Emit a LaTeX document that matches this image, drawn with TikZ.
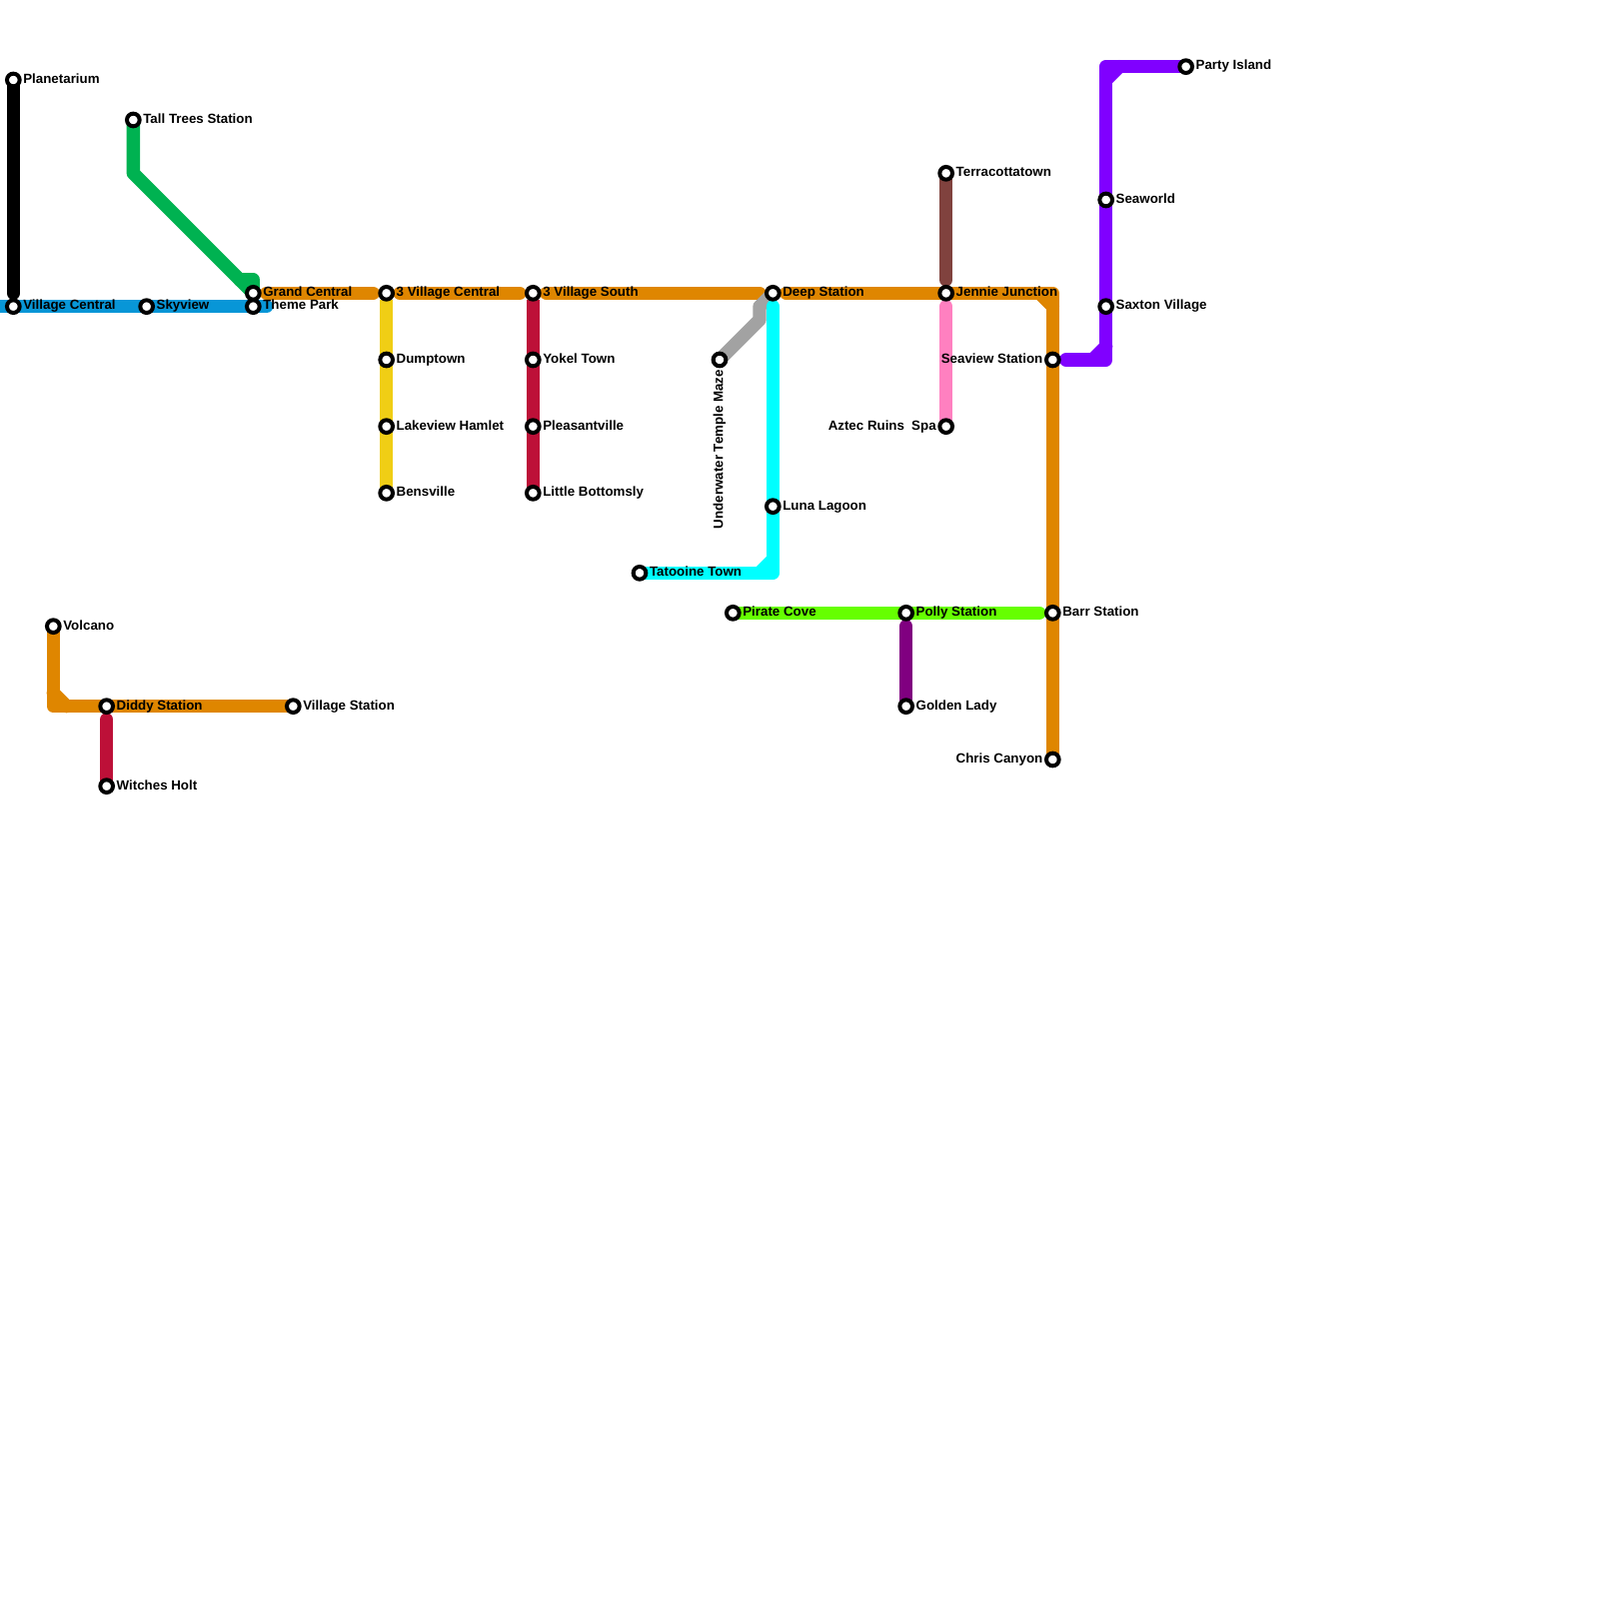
\documentclass[tikz,border=0pt]{standalone}
\usepackage{fontspec}
\setmainfont{Liberation Sans}
\usetikzlibrary{positioning,backgrounds}
\definecolor{lineblack}{HTML}{000000}
\definecolor{lineblue}{HTML}{0896D7}
\definecolor{linegreen}{HTML}{00B251}
\definecolor{lineorange}{HTML}{DF8600}
\definecolor{lineyellow}{HTML}{F0CE15}
\definecolor{linered}{HTML}{BD1038}
\definecolor{linesilver}{HTML}{A2A2A2}
\definecolor{linecyan}{HTML}{00FFFF}
\definecolor{linelime}{HTML}{66FF00}
\definecolor{linepurple}{HTML}{800080}
\definecolor{linebrown}{HTML}{80423E}
\definecolor{linepink}{HTML}{FF80C0}
\definecolor{lineviolet}{HTML}{8000FF}
\tikzset{
  track/.style={line width=2mm, line cap=round, line join=round},
  clear/.style={shorten <=2mm, shorten >=2mm},
  clearstart/.style={shorten <=2mm},
  clearend/.style={shorten >=2mm},
  flatstart/.style={line cap=butt, shorten <=1mm},
  stn/.style={circle, draw=black, fill=white, line width=0.6mm, minimum size=1.9mm, inner sep=0pt, outer sep=0pt},
  lab/.style={text=black, font=\fontsize{5.69}{6}\selectfont\bfseries, inner sep=0pt, outer sep=0pt, text height=1.3mm, text depth=0.3mm},
}

\begin{document}
\begin{tikzpicture}[x=2mm,y=-2mm]
  \useasboundingbox (0,0) rectangle (120,120);
  % west
  \node[stn] (planetarium) at (1,6) {};
  \node[lab,right=0.55mm of planetarium] (planetariumlab) {Planetarium};
  \node[stn] (vcentral) at (1,23) {};
  \node[lab,right=0.55mm of vcentral] (vcentrallab) {Village Central};
  \node[stn] (skyview) at (11,23) {};
  \node[lab,right=0.55mm of skyview] (skyviewlab) {Skyview};
  \node[stn] (tall) at (10,9) {};
  \node[lab,right=0.55mm of tall] (talllab) {Tall Trees Station};
  \node[stn] (grand) at (19,22) {};
  \node[lab,right=0.55mm of grand] (grandlab) {Grand Central};
  \node[stn] (theme) at (19,23) {};
  \node[lab,right=0.55mm of theme] (themelab) {Theme Park};
  \node[stn] (volcano) at (4,47) {};
  \node[lab,right=0.55mm of volcano] (volcanolab) {Volcano};
  \node[stn] (diddy) at (8,53) {};
  \node[lab,right=0.55mm of diddy] (diddylab) {Diddy Station};
  \node[stn] (vstation) at (22,53) {};
  \node[lab,right=0.55mm of vstation] (vstationlab) {Village Station};
  \node[stn] (witches) at (8,59) {};
  \node[lab,right=0.55mm of witches] (witcheslab) {Witches Holt};
  % middle
  \node[stn] (vc3) at (29,22) {};
  \node[lab,right=0.55mm of vc3] (vc3lab) {3 Village Central};
  \node[stn] (dump) at (29,27) {};
  \node[lab,right=0.55mm of dump] (dumplab) {Dumptown};
  \node[stn] (lake) at (29,32) {};
  \node[lab,right=0.55mm of lake] (lakelab) {Lakeview Hamlet};
  \node[stn] (bens) at (29,37) {};
  \node[lab,right=0.55mm of bens] (benslab) {Bensville};
  \node[stn] (vs3) at (40,22) {};
  \node[lab,right=0.55mm of vs3] (vs3lab) {3 Village South};
  \node[stn] (yokel) at (40,27) {};
  \node[lab,right=0.55mm of yokel] (yokellab) {Yokel Town};
  \node[stn] (pleasant) at (40,32) {};
  \node[lab,right=0.55mm of pleasant] (pleasantlab) {Pleasantville};
  \node[stn] (bottomsly) at (40,37) {};
  \node[lab,right=0.55mm of bottomsly] (bottomslylab) {Little Bottomsly};
  \node[stn] (maze) at (54,27) {};
  \node[lab,rotate=90,anchor=east] (mazelab) at ([yshift=-0.55mm]maze.south) {Underwater Temple Maze};
  \node[stn] (deep) at (58,22) {};
  \node[lab,right=0.55mm of deep] (deeplab) {Deep Station};
  \node[stn] (luna) at (58,38) {};
  \node[lab,right=0.55mm of luna] (lunalab) {Luna Lagoon};
  \node[stn] (tatooine) at (48,43) {};
  \node[lab,right=0.55mm of tatooine] (tatooinelab) {Tatooine Town};
  \node[stn] (pirate) at (55,46) {};
  \node[lab,right=0.55mm of pirate] (piratelab) {Pirate Cove};
  \node[stn] (polly) at (68,46) {};
  \node[lab,right=0.55mm of polly] (pollylab) {Polly Station};
  \node[stn] (golden) at (68,53) {};
  \node[lab,right=0.55mm of golden] (goldenlab) {Golden Lady};
  % east
  \node[stn] (terra) at (71,13) {};
  \node[lab,right=0.55mm of terra] (terralab) {Terracottatown};
  \node[stn] (jennie) at (71,22) {};
  \node[lab,right=0.55mm of jennie] (jennielab) {Jennie Junction};
  \node[stn] (spa) at (71,32) {};
  \node[lab,left=0.55mm of spa] (spalab) {Aztec Ruins\hspace{0.52mm} Spa};
  \node[stn] (seaview) at (79,27) {};
  \node[lab,left=0.55mm of seaview] (seaviewlab) {Seaview Station};
  \node[stn] (barr) at (79,46) {};
  \node[lab,right=0.55mm of barr] (barrlab) {Barr Station};
  \node[stn] (chris) at (79,57) {};
  \node[lab,left=0.55mm of chris] (chrislab) {Chris Canyon};
  \node[stn] (seaworld) at (83,15) {};
  \node[lab,right=0.55mm of seaworld] (seaworldlab) {Seaworld};
  \node[stn] (saxton) at (83,23) {};
  \node[lab,right=0.55mm of saxton] (saxtonlab) {Saxton Village};
  \node[stn] (party) at (89,5) {};
  \node[lab,right=0.55mm of party] (partylab) {Party Island};
  % bends and free ends
  \coordinate (bluew) at (0,23);
  \coordinate (bluee) at (20,23);
  \coordinate (greena) at (10,13);
  \coordinate (greenb) at (18,21);
  \coordinate (greenc) at (19,21);
  \coordinate (volcanoa) at (4,53);
  \coordinate (volcanob) at (4,52);
  \coordinate (volcanoc) at (5,53);
  \coordinate (silvera) at (57,24);
  \coordinate (silverb) at (57,23);
  \coordinate (cyana) at (58,43);
  \coordinate (cyanb) at (57,43);
  \coordinate (cyanc) at (58,42);
  \coordinate (orangea) at (79,22);
  \coordinate (orangeb) at (78,22);
  \coordinate (orangec) at (79,23);
  \coordinate (violets) at (80,27);
  \coordinate (violeta) at (83,27);
  \coordinate (violetb) at (82,27);
  \coordinate (violetc) at (83,26);
  \coordinate (violetd) at (83,5);
  \coordinate (violete) at (83,6);
  \coordinate (violetf) at (84,5);
  \begin{scope}[on background layer]
    \fill[white] (0,0) rectangle (120,120);
    \draw[track,draw=lineblack,clearend] (planetarium.center)--(vcentral.center);
    \draw[track,draw=lineblue] (bluew)--(vcentral.center)--(skyview.center)--(theme.center)--(bluee);
    \draw[track,draw=linegreen] (tall.center)--(greena)--(grand.center);
    \draw[track,draw=linegreen] (greenb)--(greenc)--(grand.center);
    \draw[track,draw=lineorange,clear] (grand.center)--(vc3.center);
    \draw[track,draw=lineorange,clear] (vc3.center)--(vs3.center);
    \draw[track,draw=lineorange,clear] (vs3.center)--(deep.center);
    \draw[track,draw=lineorange,clearstart] (deep.center)--(jennie.center)--(orangea)--(seaview.center)--(barr.center)--(chris.center);
    \draw[track,draw=lineorange] (orangeb)--(orangec);
    \draw[track,draw=lineorange] (volcano.center)--(volcanoa)--(diddy.center)--(vstation.center);
    \draw[track,draw=lineorange] (volcanob)--(volcanoc);
    \draw[track,draw=linered,clearstart] (diddy.center)--(witches.center);
    \draw[track,draw=lineyellow,clearstart] (vc3.center)--(dump.center)--(lake.center)--(bens.center);
    \draw[track,draw=lineyellow,flatstart] (vc3.center)--(dump.center);
    \draw[track,draw=linered,clearstart] (vs3.center)--(yokel.center)--(pleasant.center)--(bottomsly.center);
    \draw[track,draw=linered,flatstart] (vs3.center)--(yokel.center);
    \draw[track,draw=linesilver] (maze.center)--(silvera)--(silverb)--(deep.center);
    \draw[track,draw=linecyan,clearend] (tatooine.center)--(cyana)--(luna.center)--(deep.center);
    \draw[track,draw=linecyan] (cyanb)--(cyanc);
    \draw[track,draw=linelime,clearend] (pirate.center)--(polly.center)--(barr.center);
    \draw[track,draw=linepurple,clearstart] (polly.center)--(golden.center);
    \draw[track,draw=linebrown,clearend] (terra.center)--(jennie.center);
    \draw[track,draw=linepink,clearstart] (jennie.center)--(spa.center);
    \draw[track,draw=lineviolet] (violets)--(violeta)--(saxton.center)--(seaworld.center)--(violetd)--(party.center);
    \draw[track,draw=lineviolet] (violetb)--(violetc);
    \draw[track,draw=lineviolet] (violete)--(violetf);
  \end{scope}
\end{tikzpicture}
\end{document}
